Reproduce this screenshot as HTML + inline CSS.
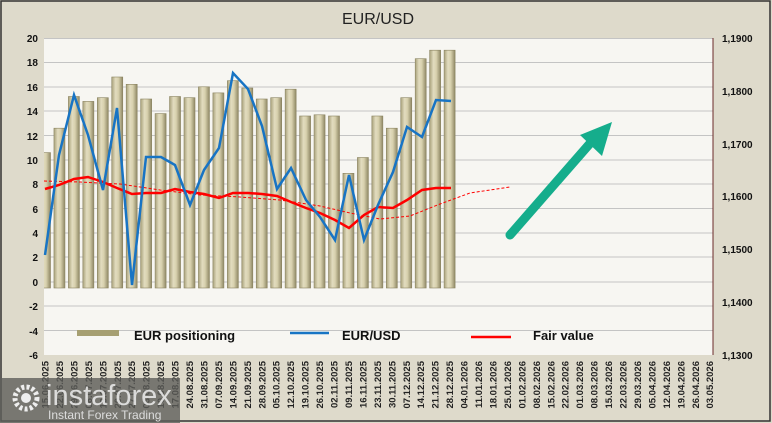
<!DOCTYPE html><html><head><meta charset="utf-8"><style>body{margin:0;background:#dedacb}svg{display:block;font-family:"Liberation Sans",sans-serif}</style></head><body>
<svg width="772" height="423" viewBox="0 0 772 423" xmlns="http://www.w3.org/2000/svg">
<defs>
<linearGradient id="bg" x1="0" x2="1"><stop offset="0" stop-color="#a9a27c"/><stop offset="0.35" stop-color="#e2dcbf"/><stop offset="0.6" stop-color="#d8d1ae"/><stop offset="1" stop-color="#8f8865"/></linearGradient>
<clipPath id="pc"><rect x="44" y="30" width="669" height="270"/></clipPath>
</defs>
<rect x="0" y="0" width="772" height="423" fill="#dedacb"/>
<rect x="1" y="1" width="769" height="420" fill="none" stroke="#333" stroke-width="1.5"/>
<text x="378" y="24" font-size="16" text-anchor="middle" fill="#222">EUR/USD</text>
<rect x="44" y="38" width="669" height="317" fill="#f7f6f2"/>
<g stroke="#c4c4c4" stroke-width="1">
<line x1="44" x2="713" y1="38.5" y2="38.5"/><line x1="44" x2="713" y1="62.5" y2="62.5"/><line x1="44" x2="713" y1="87" y2="87"/><line x1="44" x2="713" y1="111" y2="111"/><line x1="44" x2="713" y1="135.5" y2="135.5"/><line x1="44" x2="713" y1="160" y2="160"/><line x1="44" x2="713" y1="184" y2="184"/><line x1="44" x2="713" y1="208.5" y2="208.5"/><line x1="44" x2="713" y1="233" y2="233"/><line x1="44" x2="713" y1="257" y2="257"/><line x1="44" x2="713" y1="282" y2="282"/><line x1="44" x2="713" y1="306" y2="306"/><line x1="44" x2="713" y1="330.5" y2="330.5"/>
</g>
<line x1="713" x2="713" y1="38" y2="355" stroke="#6b2a2a" stroke-width="1"/>
<g font-size="10" font-weight="bold" fill="#111" text-anchor="end">
<text x="38" y="42">20</text><text x="38" y="66">18</text><text x="38" y="91">16</text><text x="38" y="115">14</text><text x="38" y="140">12</text><text x="38" y="164">10</text><text x="38" y="188">8</text><text x="38" y="213">6</text><text x="38" y="237">4</text><text x="38" y="261">2</text><text x="38" y="286">0</text><text x="38" y="310">-2</text><text x="38" y="335">-4</text><text x="38" y="359">-6</text>
</g>
<g font-size="10" font-weight="bold" fill="#111">
<text x="722" y="42">1,1900</text><text x="722" y="95">1,1800</text><text x="722" y="148">1,1700</text><text x="722" y="200">1,1600</text><text x="722" y="253">1,1500</text><text x="722" y="306">1,1400</text><text x="722" y="359">1,1300</text>
</g>
<g fill="url(#bg)" stroke="#8a8360" stroke-width="0.6" clip-path="url(#pc)">
<rect x="39.5" y="152.6" width="11" height="135.4"/>
<rect x="53.95" y="128.2" width="11" height="159.8"/>
<rect x="68.4" y="96.5" width="11" height="191.5"/>
<rect x="82.85" y="101.4" width="11" height="186.6"/>
<rect x="97.3" y="97.7" width="11" height="190.3"/>
<rect x="111.75" y="77" width="11" height="211"/>
<rect x="126.2" y="84.3" width="11" height="203.7"/>
<rect x="140.65" y="99" width="11" height="189"/>
<rect x="155.1" y="113.6" width="11" height="174.4"/>
<rect x="169.55" y="96.5" width="11" height="191.5"/>
<rect x="184" y="97.7" width="11" height="190.3"/>
<rect x="198.45" y="86.8" width="11" height="201.2"/>
<rect x="212.9" y="92.9" width="11" height="195.1"/>
<rect x="227.35" y="80.7" width="11" height="207.3"/>
<rect x="241.8" y="88" width="11" height="200"/>
<rect x="256.25" y="99" width="11" height="189"/>
<rect x="270.7" y="97.7" width="11" height="190.3"/>
<rect x="285.15" y="89.2" width="11" height="198.8"/>
<rect x="299.6" y="116" width="11" height="172"/>
<rect x="314.05" y="114.8" width="11" height="173.2"/>
<rect x="328.5" y="116" width="11" height="172"/>
<rect x="342.95" y="173.3" width="11" height="114.7"/>
<rect x="357.4" y="157.5" width="11" height="130.5"/>
<rect x="371.85" y="116" width="11" height="172"/>
<rect x="386.3" y="128.2" width="11" height="159.8"/>
<rect x="400.75" y="97.7" width="11" height="190.3"/>
<rect x="415.2" y="58.7" width="11" height="229.3"/>
<rect x="429.65" y="50.2" width="11" height="237.8"/>
<rect x="444.1" y="50.2" width="11" height="237.8"/>
</g>
<polyline fill="none" stroke="#ff0000" stroke-width="1" stroke-dasharray="3,2" points="44,181 80,182 120,184 160,190 200,195 240,197 280,200 320,206 350,213 380,219 410,216 440,204 470,193 510,187"/>
<polyline fill="none" stroke="#ff0000" stroke-width="2.5" points="45,189 59,185 74,179 88,177 103,182 117,188 132,194 146,193 161,193 175,189 190,192 204,194 219,198 233,193 248,193 262,194 277,196 291,202 306,208 320,213 335,220 349,228 364,215 378,207 393,208 407,200 422,190 436,188 451,188"/>
<polyline fill="none" stroke="#1874c4" stroke-width="2.5" points="45,255 59,155 74,95 88,135 103,190 117,108 132,285 146,157 161,157 175,165 190,205 204,170 219,148 233,73 248,89 262,126 277,189 291,168 306,200 320,217 335,240 349,175 364,240 378,205 393,172 407,127 422,137 436,100 451,101"/>
<line x1="510" y1="235" x2="593" y2="140" stroke="#15ad8c" stroke-width="9" stroke-linecap="round"/>
<polygon points="612,122 580,135 602,156" fill="#15ad8c"/>
<rect x="77" y="330" width="42" height="6" fill="#a69f72"/>
<line x1="290" x2="329" y1="333" y2="333" stroke="#1874c4" stroke-width="2.5"/>
<line x1="471" x2="511" y1="337" y2="337" stroke="#ff0000" stroke-width="2.5"/>
<g font-size="13" font-weight="bold" fill="#111"><text x="134" y="340">EUR positioning</text><text x="342" y="340">EUR/USD</text><text x="533" y="340">Fair value</text></g>
<g font-size="9.5" font-weight="bold" fill="#222" text-anchor="end">
<text transform="translate(48.5,361) rotate(-90)">15.06.2025</text>
<text transform="translate(62.95,361) rotate(-90)">22.06.2025</text>
<text transform="translate(77.4,361) rotate(-90)">29.06.2025</text>
<text transform="translate(91.85,361) rotate(-90)">06.07.2025</text>
<text transform="translate(106.3,361) rotate(-90)">13.07.2025</text>
<text transform="translate(120.75,361) rotate(-90)">20.07.2025</text>
<text transform="translate(135.2,361) rotate(-90)">27.07.2025</text>
<text transform="translate(149.65,361) rotate(-90)">03.08.2025</text>
<text transform="translate(164.1,361) rotate(-90)">10.08.2025</text>
<text transform="translate(178.55,361) rotate(-90)">17.08.2025</text>
<text transform="translate(193,361) rotate(-90)">24.08.2025</text>
<text transform="translate(207.45,361) rotate(-90)">31.08.2025</text>
<text transform="translate(221.9,361) rotate(-90)">07.09.2025</text>
<text transform="translate(236.35,361) rotate(-90)">14.09.2025</text>
<text transform="translate(250.8,361) rotate(-90)">21.09.2025</text>
<text transform="translate(265.25,361) rotate(-90)">28.09.2025</text>
<text transform="translate(279.7,361) rotate(-90)">05.10.2025</text>
<text transform="translate(294.15,361) rotate(-90)">12.10.2025</text>
<text transform="translate(308.6,361) rotate(-90)">19.10.2025</text>
<text transform="translate(323.05,361) rotate(-90)">26.10.2025</text>
<text transform="translate(337.5,361) rotate(-90)">02.11.2025</text>
<text transform="translate(351.95,361) rotate(-90)">09.11.2025</text>
<text transform="translate(366.4,361) rotate(-90)">16.11.2025</text>
<text transform="translate(380.85,361) rotate(-90)">23.11.2025</text>
<text transform="translate(395.3,361) rotate(-90)">30.11.2025</text>
<text transform="translate(409.75,361) rotate(-90)">07.12.2025</text>
<text transform="translate(424.2,361) rotate(-90)">14.12.2025</text>
<text transform="translate(438.65,361) rotate(-90)">21.12.2025</text>
<text transform="translate(453.1,361) rotate(-90)">28.12.2025</text>
<text transform="translate(467.55,361) rotate(-90)">04.01.2026</text>
<text transform="translate(482,361) rotate(-90)">11.01.2026</text>
<text transform="translate(496.45,361) rotate(-90)">18.01.2026</text>
<text transform="translate(510.9,361) rotate(-90)">25.01.2026</text>
<text transform="translate(525.35,361) rotate(-90)">01.02.2026</text>
<text transform="translate(539.8,361) rotate(-90)">08.02.2026</text>
<text transform="translate(554.25,361) rotate(-90)">15.02.2026</text>
<text transform="translate(568.7,361) rotate(-90)">22.02.2026</text>
<text transform="translate(583.15,361) rotate(-90)">01.03.2026</text>
<text transform="translate(597.6,361) rotate(-90)">08.03.2026</text>
<text transform="translate(612.05,361) rotate(-90)">15.03.2026</text>
<text transform="translate(626.5,361) rotate(-90)">22.03.2026</text>
<text transform="translate(640.95,361) rotate(-90)">29.03.2026</text>
<text transform="translate(655.4,361) rotate(-90)">05.04.2026</text>
<text transform="translate(669.85,361) rotate(-90)">12.04.2026</text>
<text transform="translate(684.3,361) rotate(-90)">19.04.2026</text>
<text transform="translate(698.75,361) rotate(-90)">26.04.2026</text>
<text transform="translate(713.2,361) rotate(-90)">03.05.2026</text>
</g>
<rect x="0" y="378" width="180" height="45" fill="#5e5e5a" opacity="0.8"/>
<circle cx="26" cy="398" r="11" fill="none" stroke="#eee" stroke-width="5" stroke-dasharray="3,2.2"/>
<circle cx="26" cy="398" r="5" fill="#eee"/>
<text x="46" y="405" font-size="29" fill="#eee" opacity="0.85">instaforex</text>
<text x="48" y="419" font-size="12" fill="#ddd">Instant Forex Trading</text>
</svg></body></html>
